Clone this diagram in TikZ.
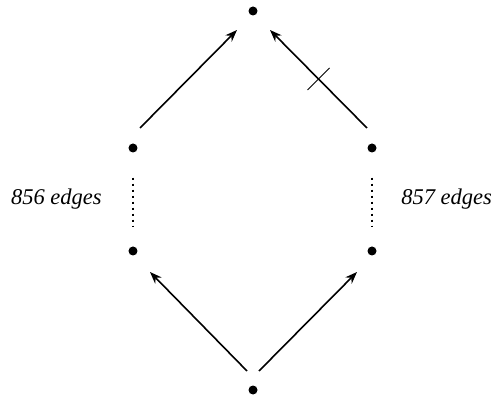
\documentclass[tikz,border=0pt]{standalone}
\usepackage{fontspec}
\setmainfont{Liberation Serif}
\usepackage{tikz}
\usetikzlibrary{arrows.meta, positioning, calc}

\begin{document}
\begin{tikzpicture}[
    node distance=1cm, on grid,
    dot/.style={circle, fill=black, inner sep=0pt, minimum size=9pt},
    arrow/.style={-{Stealth[length=12pt, width=9pt]}, line width=1.6pt},
    chain/.style={line width=2pt, dash pattern=on 2pt off 4pt, shorten <=25pt, shorten >=19pt},
    count/.style={font=\fontsize{22.5}{26}\selectfont\itshape}
]

% Vertices
\node[dot] (bot) {};
\node[dot, above left=139pt and 120pt of bot] (ll) {};
\node[dot, above=103pt of ll] (lu) {};
\node[dot, above right=139pt and 119pt of bot] (rl) {};
\node[dot, above=103pt of rl] (ru) {};
\node[dot, above=379pt of bot] (top) {};

\useasboundingbox ($(bot)+(-253pt,-8pt)$) rectangle ($(bot)+(241pt,390pt)$);

% Paths
\draw[arrow] ($(bot)+(-6pt,19pt)$) -- ($(ll)+(17pt,-21pt)$);
\draw[arrow] ($(bot)+(6pt,19pt)$) -- ($(rl)+(-15pt,-21pt)$);
\draw[arrow] ($(lu)+(7pt,20pt)$) -- ($(top)+(-16pt,-19pt)$);
\draw[arrow] ($(ru)+(-5pt,20pt)$) -- coordinate[pos=.5] (cut) ($(top)+(17pt,-19pt)$);
\draw[line width=.9pt] ($(cut)+(-11pt,-11pt)$) -- ($(cut)+(11pt,11pt)$);

% Long chains
\draw[chain] (lu) -- node[count, left=27pt] {856 edges} (ll);
\draw[chain] (ru) -- node[count, right=25pt] {857 edges} (rl);

\end{tikzpicture}
\end{document}
